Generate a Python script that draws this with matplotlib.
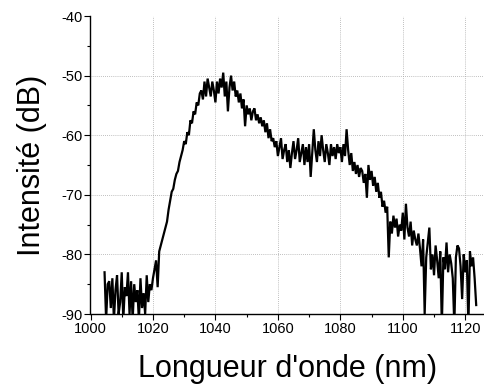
import numpy as np
import matplotlib
matplotlib.use("Agg")
import matplotlib.pyplot as plt
from matplotlib.ticker import MultipleLocator

# Spectrum, 0.5 nm steps starting at 1004.5 nm
wl_start = 1004.5
wl_step = 0.5
intensity_db = [
    -83, -91, -85, -84.5, -89, -84, -91, -86, -83.5, -90,          # 1004.5-1009.0
    -88, -83, -91, -85.5, -87, -83, -90, -84.5, -91, -85,          # 1009.5-1014.0
    -88, -86, -91, -84, -89, -86.5, -90, -83.5, -88, -85,          # 1014.5-1019.0
    -86, -84, -82.5, -81, -85.5, -79.5, -78.5, -77.5, -76.5, -75.5,  # 1019.5-1024.0
    -74.5, -72.5, -71, -69.5, -69, -67.5, -66.5, -66, -64.5, -63.5,  # 1024.5-1029.0
    -62.5, -61, -61.5, -59.5, -60, -57.5, -58, -56, -56.5, -54.5,    # 1029.5-1034.0
    -55, -53, -52.5, -54, -51, -53.5, -50.5, -52, -53.5, -51,        # 1034.5-1039.0
    -52.5, -54.5, -51, -53, -50.5, -52, -49.5, -53.5, -51, -56,      # 1039.5-1044.0
    -52, -50, -52.5, -51, -53.5, -52.5, -54.5, -53, -55.5, -54,      # 1044.5-1049.0
    -58.5, -55, -56.5, -55.5, -57.5, -56, -55.5, -57.5, -56.5, -58,  # 1049.5-1054.0
    -57, -58.5, -57.5, -59.5, -58, -60.5, -59, -61, -60.5, -62,      # 1054.5-1059.0
    -61, -63.5, -62, -60.5, -64, -62.5, -61.5, -64.5, -62.5, -65.5,  # 1059.5-1064.0
    -63, -61, -64, -62.5, -60.5, -64.5, -63, -61.5, -65, -62,        # 1064.5-1069.0
    -64.5, -61.5, -67, -63, -59, -62.5, -64.5, -61, -63.5, -60,      # 1069.5-1074.0
    -62.5, -64.5, -61.5, -63, -65, -61.5, -63.5, -62, -64, -61.5,    # 1074.5-1079.0
    -63, -62, -64.5, -61.5, -63.5, -59, -62.5, -65, -63, -66,        # 1079.5-1084.0
    -64.5, -66.5, -65, -67, -65.5, -66, -68, -66.5, -70.5, -65,      # 1084.5-1089.0
    -67.5, -66, -68.5, -67, -69.5, -68, -70.5, -69.5, -72, -71,      # 1089.5-1094.0
    -73, -72, -80.5, -74.5, -76.5, -73.5, -75.5, -74, -77, -75,      # 1094.5-1099.0
    -76, -73, -77.5, -71.5, -75.5, -77, -74.5, -78.5, -76, -77.5,    # 1099.5-1104.0
    -78.5, -76.5, -79, -82, -77.5, -90, -80.5, -78, -75.5, -82.5,    # 1104.5-1109.0
    -80, -83.5, -78.5, -81, -84, -79.5, -92, -80.5, -82.5, -78,      # 1109.5-1114.0
    -83, -80, -81.5, -84, -92, -80.5, -78.5, -79, -82, -87.5,        # 1114.5-1119.0
    -80, -83, -81, -92, -79.5, -82, -80.5, -84, -88.5,               # 1119.5-1123.5
]
wavelength_nm = wl_start + wl_step * np.arange(len(intensity_db))

x_ticks = [1000, 1020, 1040, 1060, 1080, 1100, 1120]
y_ticks = [-90, -80, -70, -60, -50, -40]

plt.rcParams['font.family'] = ['Liberation Sans', 'DejaVu Sans']
plt.rcParams['axes.unicode_minus'] = False

fig = plt.figure(figsize=(4.85, 3.85), dpi=100)
ax = fig.add_axes([90.5 / 485, 71 / 385, (484 - 90.5) / 485, 298 / 385])

ax.plot(wavelength_nm, intensity_db, color='black', linewidth=1.6,
        solid_joinstyle='miter')

ax.set_xlim(1000, 1126)
ax.set_ylim(-90, -40)
ax.set_xticks(x_ticks)
ax.set_yticks(y_ticks)
ax.xaxis.set_minor_locator(MultipleLocator(10))
ax.yaxis.set_minor_locator(MultipleLocator(5))
ax.tick_params(which='major', direction='out', length=4, width=0.8, labelsize=10.5, pad=2)
ax.tick_params(which='minor', direction='out', length=2.5, width=0.8)

ax.spines['top'].set_visible(False)
ax.spines['right'].set_visible(False)
for s in ('left', 'bottom'):
    ax.spines[s].set_linewidth(1.0)

ax.grid(True, which='major', linestyle=(0, (1, 1.5)), color='#aaaaaa', linewidth=0.6)
ax.set_axisbelow(True)
ygl = ax.yaxis.get_gridlines()
ygl[-1].set_visible(False)
ygl[0].set_visible(False)
ax.xaxis.get_gridlines()[0].set_visible(False)

ax.set_xlabel("Longueur d'onde (nm)", fontsize=22, labelpad=13)
ax.set_ylabel("Intensité (dB)", fontsize=22, labelpad=10)

fig.savefig("out.png", dpi=100)
